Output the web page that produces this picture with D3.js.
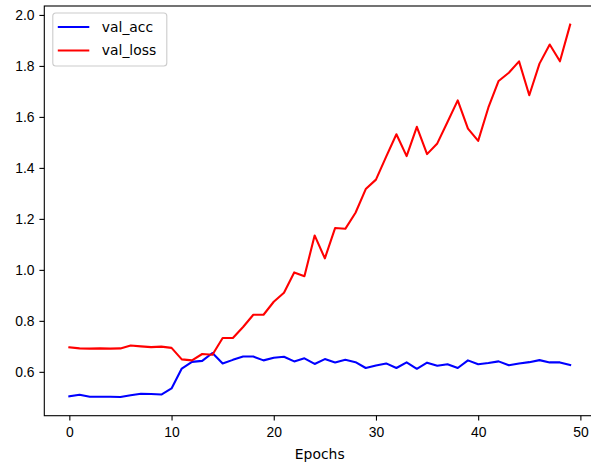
<!DOCTYPE html>
<html>
<head>
<meta charset="utf-8">
<script src="https://cdn.jsdelivr.net/npm/d3@7"></script>
<style>
    body { margin: 0; background: #fff; }
    svg { display: block; font-family: "DejaVu Sans", sans-serif; }
    .axis text { font-size: 13.9px; fill: #000; }
    .axis path, .axis line { stroke: #000; stroke-width: 1.1; }
</style>
</head>
<body>
<svg id="chart"></svg>
<script>
const epochs = d3.range(0, 50);

const valAcc = [
    0.504, 0.510, 0.502, 0.502, 0.502, 0.501, 0.508, 0.514, 0.513, 0.511,
    0.535, 0.613, 0.639, 0.643, 0.674, 0.633, 0.647, 0.660, 0.660, 0.645,
    0.655, 0.659, 0.641, 0.653, 0.631, 0.650, 0.637, 0.647, 0.638, 0.615,
    0.625, 0.633, 0.615, 0.637, 0.612, 0.636, 0.624, 0.630, 0.615, 0.645,
    0.630, 0.635, 0.641, 0.626, 0.633, 0.638, 0.646, 0.637, 0.637, 0.627
];

const valLoss = [
    0.696, 0.692, 0.691, 0.692, 0.691, 0.692, 0.703, 0.700, 0.697, 0.699,
    0.694, 0.649, 0.645, 0.670, 0.667, 0.733, 0.733, 0.776, 0.824, 0.824,
    0.875, 0.910, 0.990, 0.975, 1.135, 1.045, 1.164, 1.161, 1.224, 1.317,
    1.354, 1.444, 1.532, 1.446, 1.561, 1.454, 1.496, 1.580, 1.665, 1.554,
    1.506, 1.637, 1.741, 1.773, 1.818, 1.685, 1.809, 1.884, 1.818, 1.962
];

const seriesNames = ['val_acc', 'val_loss'];
const seriesColors = ['blue', 'red'];
const xTicks = [0, 10, 20, 30, 40, 50];
const yTicks = [0.6, 0.8, 1.0, 1.2, 1.4, 1.6, 1.8, 2.0];
const xLabel = 'Epochs';

class LineChart {
    constructor(_config) {
        this.config = {
            parentElement: _config.parentElement,
            containerWidth: 591,
            containerHeight: 464,
            margin: { top: 6, left: 44.3 },
            width: 550.9,
            height: 409.7
        };
        this.initVis();
    }

    initVis() {
        let vis = this;

        vis.svg = d3.select(vis.config.parentElement)
            .attr('width', vis.config.containerWidth)
            .attr('height', vis.config.containerHeight);

        vis.chart = vis.svg.append('g')
            .attr('transform', `translate(${vis.config.margin.left},${vis.config.margin.top})`);

        // matplotlib style 5% margins around the data
        const padRange = ([lo, hi]) => [lo - (hi - lo) * 0.05, hi + (hi - lo) * 0.05];

        vis.xScale = d3.scaleLinear()
            .domain(padRange(d3.extent(epochs)))
            .range([0, vis.config.width]);

        vis.yScale = d3.scaleLinear()
            .domain(padRange(d3.extent(valAcc.concat(valLoss))))
            .range([vis.config.height, 0]);

        vis.xAxis = d3.axisBottom(vis.xScale)
            .tickValues(xTicks)
            .tickFormat(d3.format('d'))
            .tickSize(4.9)
            .tickPadding(4.9)
            .tickSizeOuter(0);

        vis.yAxis = d3.axisLeft(vis.yScale)
            .tickValues(yTicks)
            .tickFormat(d3.format('.1f'))
            .tickSize(4.9)
            .tickPadding(4.9)
            .tickSizeOuter(0);

        vis.renderVis();
    }

    renderVis() {
        let vis = this;

        const series = [valAcc, valLoss];

        const line = d3.line()
            .x((d, i) => vis.xScale(epochs[i]))
            .y(d => vis.yScale(d));

        vis.chart.selectAll('.series')
            .data(series)
            .join('path')
            .attr('class', 'series')
            .attr('fill', 'none')
            .attr('stroke', (d, i) => seriesColors[i])
            .attr('stroke-width', 2.08)
            .attr('stroke-linejoin', 'round')
            .attr('stroke-linecap', 'square')
            .attr('d', line);

        // frame
        vis.chart.append('rect')
            .attr('width', vis.config.width)
            .attr('height', vis.config.height)
            .attr('fill', 'none')
            .attr('stroke', '#000')
            .attr('stroke-width', 1.1);

        vis.chart.append('g')
            .attr('class', 'axis x-axis')
            .attr('transform', `translate(0,${vis.config.height})`)
            .call(vis.xAxis)
            .call(g => g.select('.domain').remove())
            .selectAll('text').attr('dy', '0.8em');

        vis.chart.append('g')
            .attr('class', 'axis y-axis')
            .call(vis.yAxis)
            .call(g => g.select('.domain').remove());

        vis.chart.append('text')
            .attr('x', vis.xScale(24.5))
            .attr('y', vis.config.height + 43)
            .attr('text-anchor', 'middle')
            .attr('font-size', 13.9)
            .text(xLabel);

        // legend
        const legend = vis.chart.append('g')
            .attr('transform', 'translate(8.5,7)');

        legend.append('rect')
            .attr('width', 114)
            .attr('height', 53)
            .attr('rx', 3)
            .attr('fill', '#fff')
            .attr('fill-opacity', 0.8)
            .attr('stroke', '#ccc')
            .attr('stroke-width', 1.1);

        const item = legend.selectAll('.item')
            .data(seriesNames)
            .join('g')
            .attr('class', 'item')
            .attr('transform', (d, i) => `translate(0,${14 + i * 23.5})`);

        item.append('line')
            .attr('x1', 5)
            .attr('x2', 36.5)
            .attr('stroke', (d, i) => seriesColors[i])
            .attr('stroke-width', 2.08);

        item.append('text')
            .attr('x', 49)
            .attr('dy', '0.35em')
            .attr('font-size', 13.9)
            .text(d => d);
    }
}

new LineChart({ parentElement: '#chart' });
</script>
</body>
</html>
